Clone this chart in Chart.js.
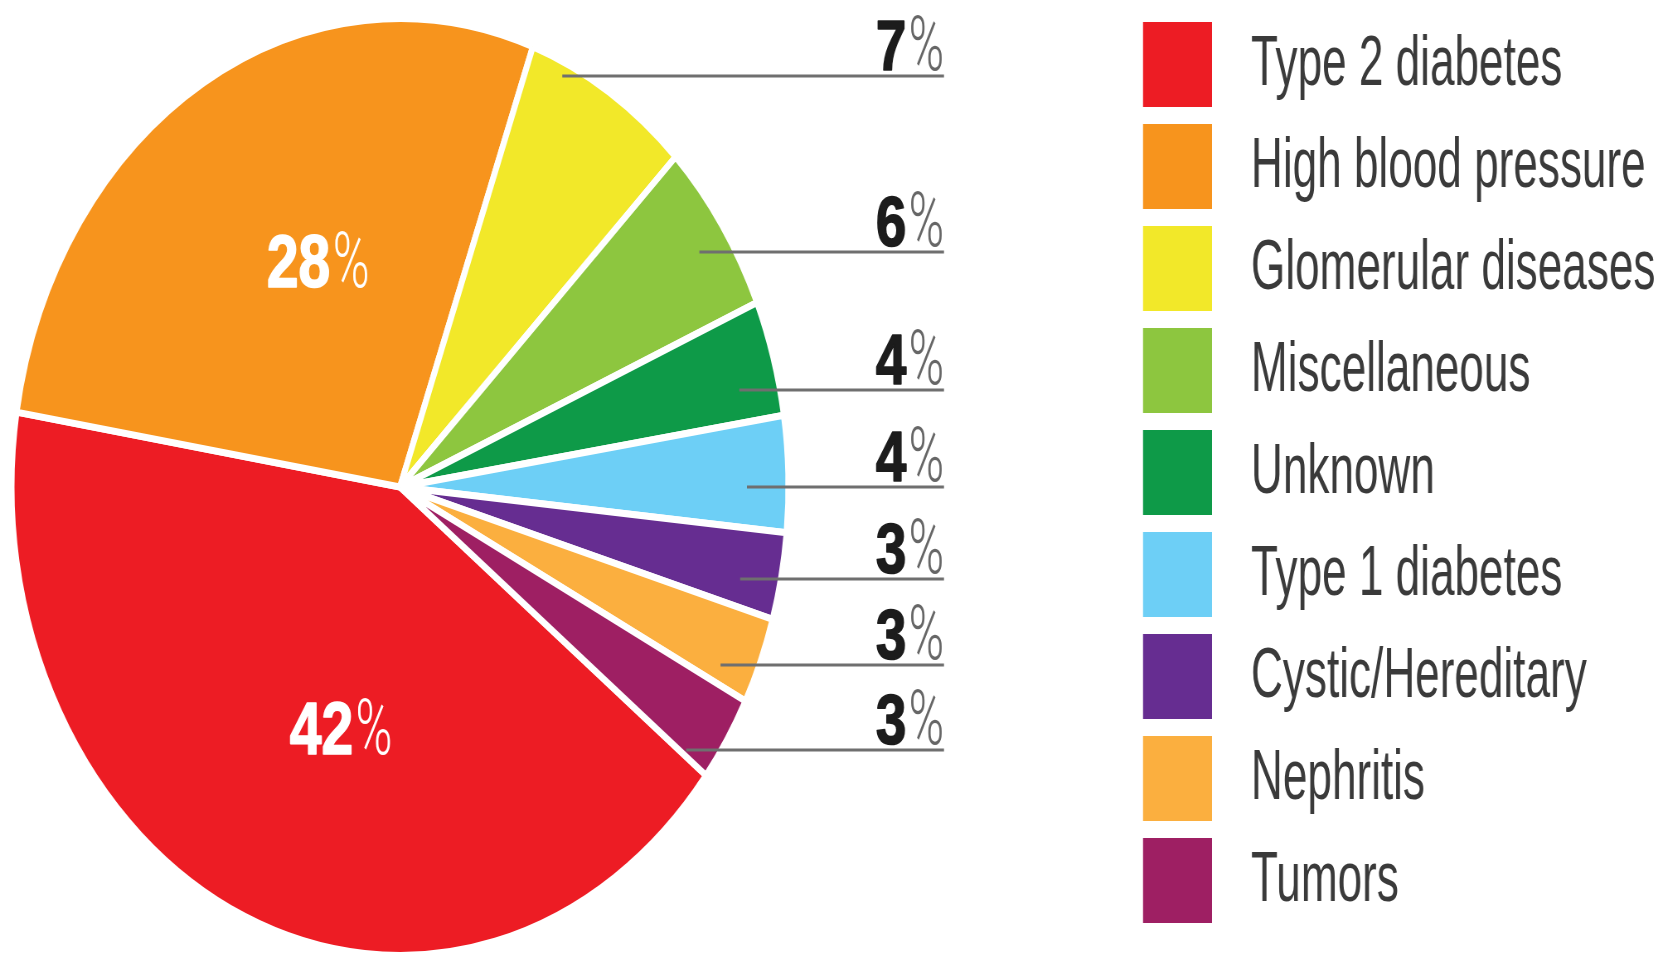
<!DOCTYPE html>
<html>
<head>
<meta charset="utf-8">
<script src="https://cdn.jsdelivr.net/npm/chart.js@4/dist/chart.umd.min.js"></script>
<style>
  html, body { margin: 0; padding: 0; background: #fff; overflow: hidden; }
  #wrap { width: 1677px; height: 959px; overflow: hidden; }
  /* the original artwork is squeezed horizontally, so the whole canvas is too */
  #kidneyChart { display: block; transform: scaleX(0.829); transform-origin: 0 0; }
</style>
</head>
<body>
<div id="wrap"><canvas id="kidneyChart" width="2023" height="959"></canvas></div>
<script>
// --- Data ---
const causes = ['Type 2 diabetes', 'High blood pressure', 'Glomerular diseases', 'Miscellaneous',
                'Unknown', 'Type 1 diabetes', 'Cystic/Hereditary', 'Nephritis', 'Tumors'];
const shares = [42, 28, 7, 6, 4, 4, 3, 3, 3];
const sliceColors = ['#ED1C24', '#F7941D', '#F2E829', '#8DC63F', '#0E9A48',
                     '#6DCFF6', '#662D91', '#FBAF3F', '#9E1F63'];

// --- Layout (page pixels) ---
const SX = 0.829;                 // horizontal squeeze of the artwork
const lx = v => v / SX;           // page px -> canvas px
const LEADER_Y = [76, 252, 390, 487, 579, 665, 750];   // rows of the outside labels
const LEADER_END = 944;
const LEGEND = { boxLeft: 1143, boxRight: 1212, textLeft: 1251, top: 22, pitch: 102, boxH: 85 };

// bold number + thin percent sign, like the print graphic
function percentLabel(ctx, value, x, baseline, size, align, numColor, signColor) {
    const num = String(value);
    const numFont = `bold ${size}px "Liberation Sans", Arial, sans-serif`;
    ctx.font = numFont;
    const numScale = (0.43 * size / SX) / ctx.measureText('0').width;
    const numW = ctx.measureText(num).width * numScale;
    const signFont = `300 ${size * 1.06}px Roboto, "Liberation Sans", sans-serif`;
    ctx.font = signFont;
    const signScale = (0.5 * size / SX) / ctx.measureText('%').width;
    const signW = ctx.measureText('%').width * signScale;
    const gap = 0.03 * size / SX;
    const total = numW + gap + signW;
    let left = x;
    if (align === 'right') left = x - total;
    if (align === 'center') left = x - total / 2;

    ctx.save();
    ctx.textAlign = 'left';
    ctx.textBaseline = 'alphabetic';
    ctx.font = numFont;
    ctx.fillStyle = numColor;
    ctx.strokeStyle = numColor;
    ctx.lineWidth = 1.6;
    ctx.lineJoin = 'round';
    ctx.translate(left, baseline);
    ctx.scale(numScale, 1);
    ctx.fillText(num, 0, 0);
    ctx.strokeText(num, 0, 0);
    ctx.restore();

    ctx.save();
    ctx.textAlign = 'left';
    ctx.textBaseline = 'alphabetic';
    ctx.font = signFont;
    ctx.fillStyle = signColor;
    ctx.translate(left + numW + gap, baseline);
    ctx.scale(signScale, 1);
    ctx.fillText('%', 0, 0);
    ctx.restore();
}

// --- Slice labels: inside for the big ones, leader lines for the rest ---
const sliceLabels = {
    id: 'sliceLabels',
    afterDatasetsDraw(chart) {
        const ctx = chart.ctx;
        const meta = chart.getDatasetMeta(0);
        const bw = chart.data.datasets[0].borderWidth;
        let row = 0;
        meta.data.forEach((arc, i) => {
            const p = arc.getProps(['x', 'y', 'startAngle', 'endAngle', 'outerRadius'], true);
            const value = shares[i];
            if (value >= 10) {
                const mid = (p.startAngle + p.endAngle) / 2;
                const r = p.outerRadius * 0.56;
                const size = 74;
                // the print version sits its big labels a little right of the slice middle
                const cx = p.x + Math.cos(mid) * r + 34;
                const cy = p.y + Math.sin(mid) * r;
                percentLabel(ctx, value, cx, cy + size * 0.716 / 2, size, 'center', '#ffffff', '#ffffff');
                return;
            }
            const y = LEADER_Y[row++];
            const rad = p.outerRadius - bw / 2;
            const dy = y - p.y;
            const half = Math.sqrt(Math.max(rad * rad - dy * dy, 0));
            const x0 = p.x + half * 0.9;
            const x1 = lx(LEADER_END);
            ctx.save();
            ctx.strokeStyle = '#6f6f6f';
            ctx.lineWidth = 3;
            ctx.beginPath();
            ctx.moveTo(x0, y);
            ctx.lineTo(x1, y);
            ctx.stroke();
            ctx.restore();
            percentLabel(ctx, value, x1, y - 6, 71, 'right', '#1c1c1c', '#666666');
        });
    }
};

// --- Legend: big square swatches with condensed labels ---
const sideLegend = {
    id: 'sideLegend',
    afterDraw(chart) {
        const ctx = chart.ctx;
        const colors = chart.data.datasets[0].backgroundColor;
        chart.data.labels.forEach((label, i) => {
            const top = LEGEND.top + i * LEGEND.pitch;
            ctx.fillStyle = colors[i];
            ctx.fillRect(lx(LEGEND.boxLeft), top, lx(LEGEND.boxRight) - lx(LEGEND.boxLeft), LEGEND.boxH);

            ctx.save();
            ctx.font = '70px "Liberation Sans", Arial, sans-serif';
            ctx.fillStyle = '#3a3a3a';
            ctx.textAlign = 'left';
            ctx.textBaseline = 'alphabetic';
            ctx.translate(lx(LEGEND.textLeft), top + 63);
            ctx.scale(0.76, 1);
            ctx.fillText(label, 0, 0);
            ctx.restore();
        });
    }
};

new Chart(document.getElementById('kidneyChart'), {
    type: 'pie',
    data: {
        labels: causes,
        datasets: [{
            data: shares,
            backgroundColor: sliceColors,
            borderColor: '#ffffff',
            borderWidth: 7,
            hoverOffset: 0
        }]
    },
    options: {
        responsive: false,
        animation: false,
        rotation: 128,
        layout: { padding: { left: 10.5, right: 1068.5, top: 15, bottom: 0 } },
        events: [],
        plugins: {
            legend: { display: false },
            tooltip: { enabled: false }
        }
    },
    plugins: [sliceLabels, sideLegend]
});
</script>
</body>
</html>
